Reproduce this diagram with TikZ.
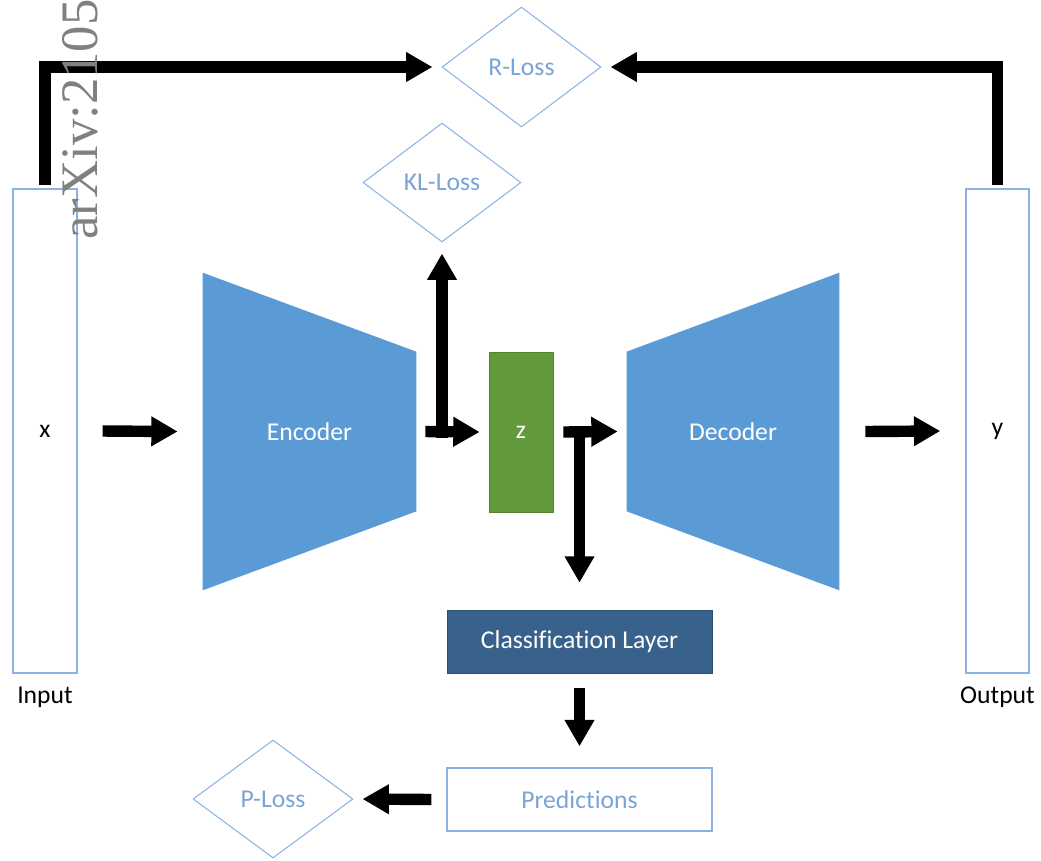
\documentclass[tikz,border=0pt]{standalone}
\usepackage{fontspec}
\setmainfont{Carlito}[Ligatures=NoCommon]
\newfontfamily\wmfont{Liberation Serif}
\usetikzlibrary{shapes, arrows.meta, calc, positioning, backgrounds}
\definecolor{aeblue}{rgb}{0.357, 0.608, 0.835}
\definecolor{aegreen}{rgb}{0.384, 0.604, 0.235}
\definecolor{aegreendark}{rgb}{0.33, 0.51, 0.2}
\definecolor{aenavy}{rgb}{0.22, 0.38, 0.545}
\definecolor{aeline}{rgb}{0.55, 0.7, 0.89}
\definecolor{aetext}{rgb}{0.48, 0.64, 0.84}

\begin{document}
\begin{tikzpicture}[x=0.02cm, y=-0.02cm, line join=miter,
        blk/.style = {line width=6.5pt, -{Triangle[length=15pt, width=16pt]}},
        lossbox/.style = {diamond, draw=aeline, line width=0.6pt, text=aetext, inner sep=0pt}]
    \useasboundingbox (0,0) rectangle (1041,860);
    \clip (0,0) rectangle (1041,860);
    \begin{scope}[every node/.style = {font=\fontsize{14.6}{17}\selectfont}]
        % input / output columns
        \node[anchor=center, draw=aeline, line width=0.8pt, minimum width=1.28cm, minimum height=9.68cm] (I) at (45,431) {x};
        \node[anchor=center] (Il) at (45,697) {Input};
        \node[anchor=center, draw=aeline, line width=0.8pt, minimum width=1.26cm, minimum height=9.68cm] (O) at (997.5,431) {y};
        \node[anchor=center] (Ol) at (997.5,697) {Output};
        % encoder, latent, decoder
        \node[anchor=center, text=white, minimum width=4.26cm, minimum height=6.34cm] (E) at (309.5,431.5) {Encoder};
        \node[anchor=center, text=white, minimum width=4.24cm, minimum height=6.34cm] (D) at (733,431.5) {Decoder};
        \node[anchor=center, fill=aegreen, draw=aegreendark, text=white, minimum width=1.28cm, minimum height=3.2cm] (Z) at (521,432) {z};
        \begin{scope}[on background layer]
            \fill[aeblue] (E.north west) -- ([yshift=-1.58cm]E.north east) -- ([yshift=1.58cm]E.south east) -- (E.south west) -- cycle;
            \fill[aeblue] ([yshift=-1.58cm]D.north west) -- (D.north east) -- (D.south east) -- ([yshift=1.58cm]D.south west) -- cycle;
        \end{scope}
        \node[anchor=center, fill=aenavy, draw=aenavy!80!black, text=white, minimum width=5.3cm, minimum height=1.26cm] (C) at (579.5,641.5) {Classification Layer};
        \node[anchor=center, draw=aeline, line width=0.8pt, text=aetext, minimum width=5.3cm, minimum height=1.26cm] (P) at (579.5,799.5) {Predictions};
        % losses
        \node[lossbox, minimum width=3.18cm, minimum height=2.4cm] (RL) at (521.5,67) {R-Loss};
        \node[lossbox, minimum width=3.16cm, minimum height=2.38cm] (KL) at (442,182.5) {KL-Loss};
        \node[lossbox, minimum width=3.2cm, minimum height=2.36cm] (PL) at (273,799) {P-Loss};
    \end{scope}
    \draw[blk] ([xshift=0.5cm]I.east) -- ([xshift=-0.5cm]E.west);
    \draw[blk] ($(KL.south |- Z.west)+(0,6)$) -- ([yshift=-0.22cm]KL.south);
    \draw[blk] ([xshift=0.18cm]E.east) -- ([xshift=-0.18cm]Z.west);
    \draw[blk] ($(C.north |- Z.east)+(0,-2)$) -- ([yshift=0.54cm]C.north);
    \draw[blk] ([xshift=0.2cm]Z.east) -- ([xshift=-0.18cm]D.west);
    \draw[blk] ([yshift=-0.3cm]C.south) -- ([yshift=0.42cm]P.north);
    \draw[blk] ([xshift=-0.3cm]P.west) -- ([xshift=0.18cm]PL.east);
    \draw[blk] ([xshift=0.52cm]D.east) -- ([xshift=-0.5cm]O.west);
    \draw[blk] ([yshift=0.06cm]I.north) |- ([xshift=-0.18cm]RL.west);
    \draw[blk] ([yshift=0.06cm]O.north) |- ([xshift=0.18cm]RL.east);
    % watermark
    \node[rotate=90, anchor=base west, inner sep=0pt, text=black!50, font=\wmfont\fontsize{30}{30}\selectfont] (W) at (97,240) {arXiv:2105};
\end{tikzpicture}
\end{document}
